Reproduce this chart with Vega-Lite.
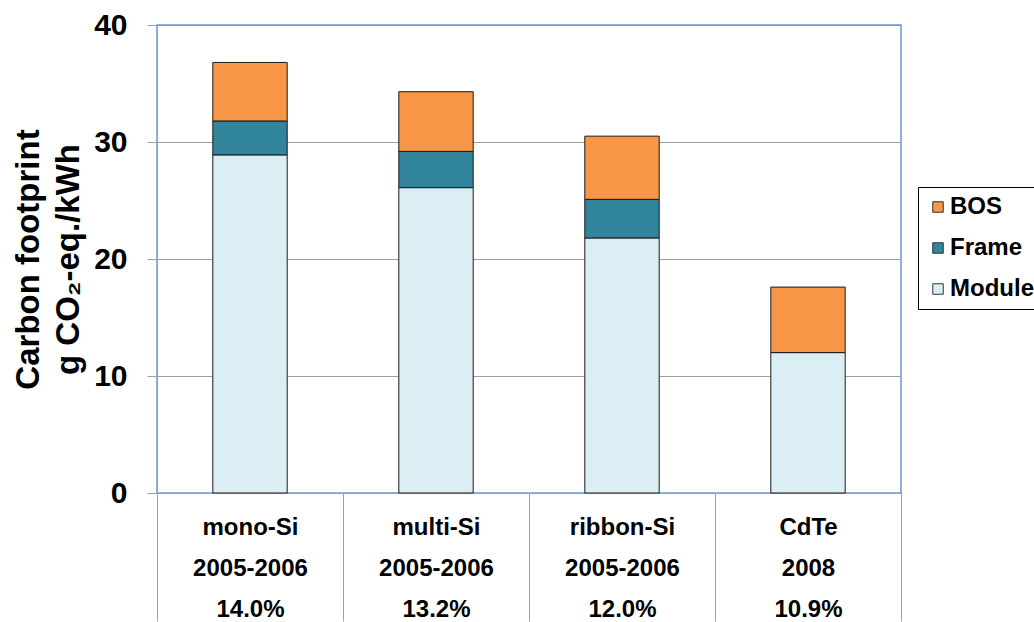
{
  "$schema": "https://vega.github.io/schema/vega-lite/v6.json",
  "width": 744,
  "height": 468,
  "autosize": "none",
  "padding": {"left": 157, "top": 25, "right": 133, "bottom": 129},
  "background": "white",
  "config": {
    "font": "Liberation Sans",
    "view": {"stroke": "#6c98d6", "strokeWidth": 1.5}
  },
  "data": {
    "values": [
      {"tech": "mono-Si|2005-2006|14.0%", "part": "Module", "ord": 1, "value": 28.9},
      {"tech": "mono-Si|2005-2006|14.0%", "part": "Frame", "ord": 2, "value": 2.9},
      {"tech": "mono-Si|2005-2006|14.0%", "part": "BOS", "ord": 3, "value": 5.0},
      {"tech": "multi-Si|2005-2006|13.2%", "part": "Module", "ord": 1, "value": 26.1},
      {"tech": "multi-Si|2005-2006|13.2%", "part": "Frame", "ord": 2, "value": 3.1},
      {"tech": "multi-Si|2005-2006|13.2%", "part": "BOS", "ord": 3, "value": 5.1},
      {"tech": "ribbon-Si|2005-2006|12.0%", "part": "Module", "ord": 1, "value": 21.8},
      {"tech": "ribbon-Si|2005-2006|12.0%", "part": "Frame", "ord": 2, "value": 3.3},
      {"tech": "ribbon-Si|2005-2006|12.0%", "part": "BOS", "ord": 3, "value": 5.4},
      {"tech": "CdTe|2008|10.9%", "part": "Module", "ord": 1, "value": 12.0},
      {"tech": "CdTe|2008|10.9%", "part": "BOS", "ord": 3, "value": 5.6}
    ]
  },
  "mark": {"type": "bar", "width": {"band": 0.4}, "stroke": "#1a1a1a", "strokeWidth": 1},
  "encoding": {
    "x": {
      "field": "tech",
      "type": "nominal",
      "sort": ["mono-Si|2005-2006|14.0%", "multi-Si|2005-2006|13.2%", "ribbon-Si|2005-2006|12.0%", "CdTe|2008|10.9%"],
      "scale": {"paddingInner": 0, "paddingOuter": 0},
      "axis": {
        "title": null,
        "labelAngle": 0,
        "labelExpr": "split(datum.label, '|')",
        "labelFontSize": 24,
        "labelFontWeight": "bold",
        "labelColor": "black",
        "labelLineHeight": 41,
        "labelBaseline": "top",
        "labelPadding": -106,
        "labelOverlap": false,
        "labelLimit": 0,
        "tickBand": "extent",
        "tickSize": 128,
        "tickColor": "#a0a0a0",
        "domainColor": "#a0a0a0",
        "grid": false
      }
    },
    "y": {
      "field": "value",
      "type": "quantitative",
      "stack": "zero",
      "scale": {"domain": [0, 40], "nice": false},
      "axis": {
        "values": [0, 10, 20, 30, 40],
        "title": ["Carbon footprint", "g CO₂-eq./kWh"],
        "titleFontSize": 33,
        "titleFontWeight": "bold",
        "titleColor": "black",
        "titleLineHeight": 40,
        "titlePadding": 8,
        "labelFontSize": 30,
        "labelFontWeight": "bold",
        "labelColor": "black",
        "labelPadding": 20,
        "tickSize": 10,
        "tickColor": "#a0a0a0",
        "domainColor": "#a0a0a0",
        "gridColor": {"condition": {"test": "datum.value == 40", "value": "#6c98d6"}, "value": "#a0a0a0"}
      }
    },
    "color": {
      "field": "part",
      "type": "nominal",
      "scale": {"domain": ["BOS", "Frame", "Module"], "range": ["#f79646", "#31859c", "#dbeef4"]},
      "legend": {
        "orient": "none",
        "legendX": 761,
        "legendY": 162,
        "title": null,
        "strokeColor": "black",
        "fillColor": "white",
        "padding": 8,
        "labelFontSize": 24,
        "labelFontWeight": "bold",
        "labelColor": "black",
        "symbolType": "square",
        "symbolSize": 110,
        "symbolStrokeColor": "#333333",
        "symbolStrokeWidth": 1,
        "rowPadding": 17,
        "labelOffset": 0
      }
    },
    "order": {"field": "ord", "type": "quantitative"}
  }
}
